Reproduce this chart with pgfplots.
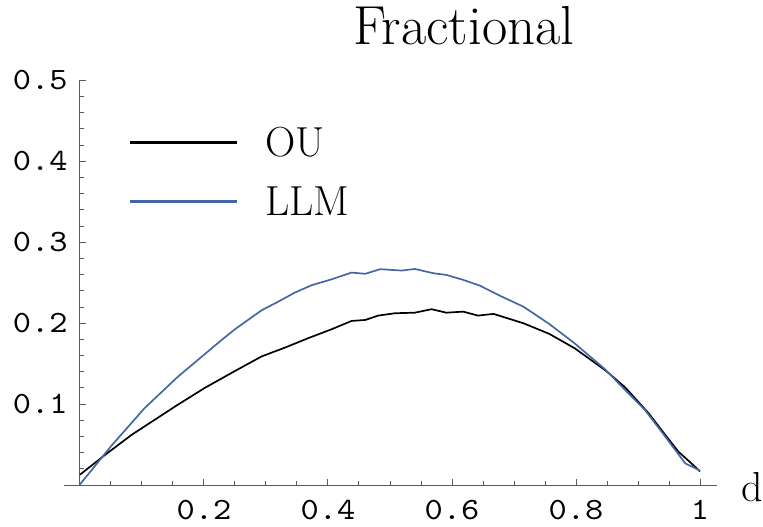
\documentclass[border=0pt]{standalone}
\usepackage{pgfplots}
\pgfplotsset{compat=1.18}
\usepackage{fontspec}
\setmonofont{lmmono10-regular.otf}[FakeStretch=1.12]
\definecolor{llmblue}{RGB}{70,103,165}
\definecolor{axgray}{RGB}{90,90,90}

\begin{document}
\begin{tikzpicture}
\begin{axis}[
    scale only axis,
    width=326.2pt, height=202.5pt,
    xmin=-0.025, xmax=1.027,
    ymin=0, ymax=0.5,
    axis lines=middle,
    axis line style={-, axgray, line width=0.5pt},
    hide obscured x ticks=false, hide obscured y ticks=false,
    xtick={0.2,0.4,0.6,0.8,1},
    ytick={0.1,0.2,0.3,0.4,0.5},
    minor xtick={0.05,0.1,...,1.0},
    minor ytick={0.02,0.04,...,0.5},
    tick align=inside,
    major tick length=3pt, minor tick length=2pt,
    tick style={axgray, line width=0.5pt},
    /pgf/number format/assume math mode=true,
    ticklabel style={font=\fontsize{15.5}{15.5}\selectfont\ttfamily},
    xticklabel style={anchor=north, inner sep=0pt, yshift=-7.5pt},
    yticklabel style={anchor=east, inner sep=0pt, xshift=-6pt},
    clip=false,
    legend style={at={(axis cs:0.0677,0.4473)}, anchor=north west,
        draw=none, fill=none, font=\fontsize{21}{21}\selectfont,
        nodes={inner sep=0pt}, column sep=13.5pt, row sep=13.5pt},
    legend cell align=left,
    legend image code/.code={\draw[#1, line width=1.5pt] (0pt,0.5pt) -- (53.5pt,0.5pt);},
]

% OU
\addplot[black, line width=0.85pt] coordinates {
(0,0.013) (0.0425,0.0386) (0.083,0.062) (0.153,0.097) (0.201,0.120)
(0.25,0.141) (0.293,0.159) (0.331,0.170) (0.368,0.1815) (0.406,0.1926)
(0.438,0.2028) (0.460,0.204) (0.481,0.2094) (0.508,0.2123) (0.540,0.213)
(0.567,0.2173) (0.591,0.213) (0.618,0.2143) (0.642,0.2094) (0.667,0.2115)
(0.715,0.200) (0.757,0.1868) (0.798,0.169) (0.847,0.142) (0.879,0.121)
(0.917,0.0889) (0.944,0.062) (0.965,0.0415) (0.986,0.027) (1.0,0.017)
};
\addlegendentry{OU}

% LLM
\addplot[llmblue, line width=0.85pt] coordinates {
(0,0.001) (0.0505,0.0485) (0.104,0.095) (0.158,0.134) (0.228,0.179)
(0.25,0.1926) (0.293,0.216) (0.320,0.2267) (0.347,0.238) (0.374,0.247)
(0.405,0.254) (0.438,0.2625) (0.460,0.261) (0.484,0.2667) (0.519,0.265)
(0.540,0.267) (0.570,0.2617) (0.591,0.2596) (0.618,0.2535) (0.645,0.2464)
(0.677,0.234) (0.715,0.2205) (0.757,0.199) (0.798,0.175) (0.847,0.143)
(0.879,0.1177) (0.911,0.093) (0.938,0.066) (0.960,0.0436) (0.976,0.027)
(1.0,0.018)
};
\addlegendentry{LLM}

\node[anchor=base, font=\fontsize{27.5}{30}\selectfont] at (axis cs:0.619,0.5436) {Fractional};
\node[anchor=base west, inner sep=0pt, font=\fontsize{21}{21}\selectfont] at (axis cs:1.066,-0.02) {d};

\coordinate (bbl) at (axis cs:-0.129,-0.0515);
\coordinate (btr) at (axis cs:1.1016,0.5991);
\end{axis}
\pgfresetboundingbox
\useasboundingbox (bbl) rectangle (btr);
\end{tikzpicture}
\end{document}
